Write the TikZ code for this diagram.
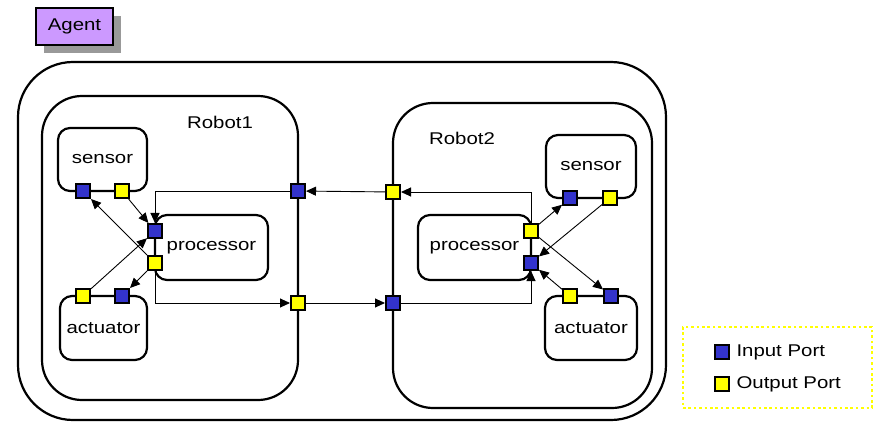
\documentclass[tikz,border=0pt]{standalone}
\usepackage{fontspec}
\setmainfont[FakeStretch=1.2]{Liberation Sans}
\usetikzlibrary{arrows.meta,positioning,shadows}
\definecolor{portblue}{HTML}{3333CC}
\definecolor{portyellow}{HTML}{FFFF00}
\definecolor{agentpurple}{HTML}{CC99FF}
\definecolor{shadowgray}{HTML}{999999}
\tikzset{
  container/.style={draw,line width=2.2pt,rounded corners=#1,inner sep=0pt},
  component/.style={container=12pt},
  agenttag/.style={draw,line width=1.6pt,fill=agentpurple,inner sep=0pt,
    drop shadow={shadow xshift=8pt,shadow yshift=-8pt,fill=shadowgray,opacity=1}},
  port/.style={draw,line width=2pt,minimum size=14pt,inner sep=0pt},
  inport/.style={port,fill=portblue},
  outport/.style={port,fill=portyellow},
  legendbox/.style={draw=portyellow,line width=2.6pt,dash pattern=on 2.6pt off 2.8pt},
  link/.style={-{Triangle[length=10pt,width=9pt]},line width=0.9pt}
}
\begin{document}
\begin{tikzpicture}[x=1pt,y=-1pt,font=\fontsize{17}{20}\selectfont]
  \useasboundingbox (0,0) rectangle (875,422);
  % Agent tag
  \node[agenttag,minimum width=77pt,minimum height=37pt] (agent) at (74.5,26.5) {Agent};
  % Containers
  \node[container=55pt,minimum width=648pt,minimum height=358pt] (agentbox) at (342,241) {};
  \node[container=40pt,minimum width=256pt,minimum height=304pt] (robotA) at (170,248) {};
  \node[container=40pt,minimum width=259pt,minimum height=305pt] (robotB) at (522.5,255.5) {};
  \node (robotAlabel) at (220,122) {Robot1};
  \node (robotBlabel) at (462,138) {Robot2};
  % Robot1 parts
  \node[component,minimum width=89pt,minimum height=63pt] (sensorA) at (102.5,159.5) {sensor};
  \node[component,minimum width=87pt,minimum height=64pt] (actuatorA) at (103.5,328) {actuator};
  \node[component,minimum width=113pt,minimum height=65pt] (procA) at (211.5,247.5) {processor};
  % Robot2 parts
  \node[component,minimum width=90pt,minimum height=63pt] (sensorB) at (591,166.5) {sensor};
  \node[component,minimum width=92pt,minimum height=64pt] (actuatorB) at (591,328) {actuator};
  \node[component,minimum width=113pt,minimum height=65pt] (procB) at (474.5,247.5) {processor};
  % Ports
  \node[inport] (sensorAin) at (83,191) {};
  \node[outport] (sensorAout) at (122,191) {};
  \node[outport] (actuatorAout) at (83,296) {};
  \node[inport] (actuatorAin) at (122,296) {};
  \node[inport] (procAin) at (155,231) {};
  \node[outport] (procAout) at (155,263) {};
  \node[inport] (robotAin) at (298,191) {};
  \node[outport] (robotAout) at (298,303) {};
  \node[outport] (robotBout) at (393,192) {};
  \node[inport] (robotBin) at (393,303) {};
  \node[outport] (procBout) at (531,231) {};
  \node[inport] (procBin) at (531,263) {};
  \node[inport] (sensorBin) at (570,198) {};
  \node[outport] (sensorBout) at (610,198) {};
  \node[outport] (actuatorBout) at (570,296) {};
  \node[inport] (actuatorBin) at (611,296) {};
  % Links in Robot1
  \draw[link] (sensorAout) -- (procAin);
  \draw[link] (procAout) -- (sensorAin);
  \draw[link] (actuatorAout) -- (procAin);
  \draw[link] (procAout) -- (actuatorAin);
  \draw[link] (robotAin) -| (procAin);
  \draw[link] (procAout) |- (robotAout);
  % Links between robots
  \draw[link] (robotBout) -- (robotAin);
  \draw[link] (robotAout) -- (robotBin);
  % Links in Robot2
  \draw[link] (procBout) |- (robotBout);
  \draw[link] (robotBin) -| (procBin);
  \draw[link] (sensorBout) -- (procBin);
  \draw[link] (procBout) -- (sensorBin);
  \draw[link] (actuatorBout) -- (procBin);
  \draw[link] (procBout) -- (actuatorBin);
  % Legend
  \node[legendbox,minimum width=189pt,minimum height=81pt] (legend) at (777.5,367.5) {};
  \node[inport] (legendin) at (722,352) {};
  \node[outport] (legendout) at (722,384) {};
  \node[right=3pt of legendin] (legendintext) {Input Port};
  \node[right=3pt of legendout] (legendouttext) {Output Port};
\end{tikzpicture}
\end{document}
